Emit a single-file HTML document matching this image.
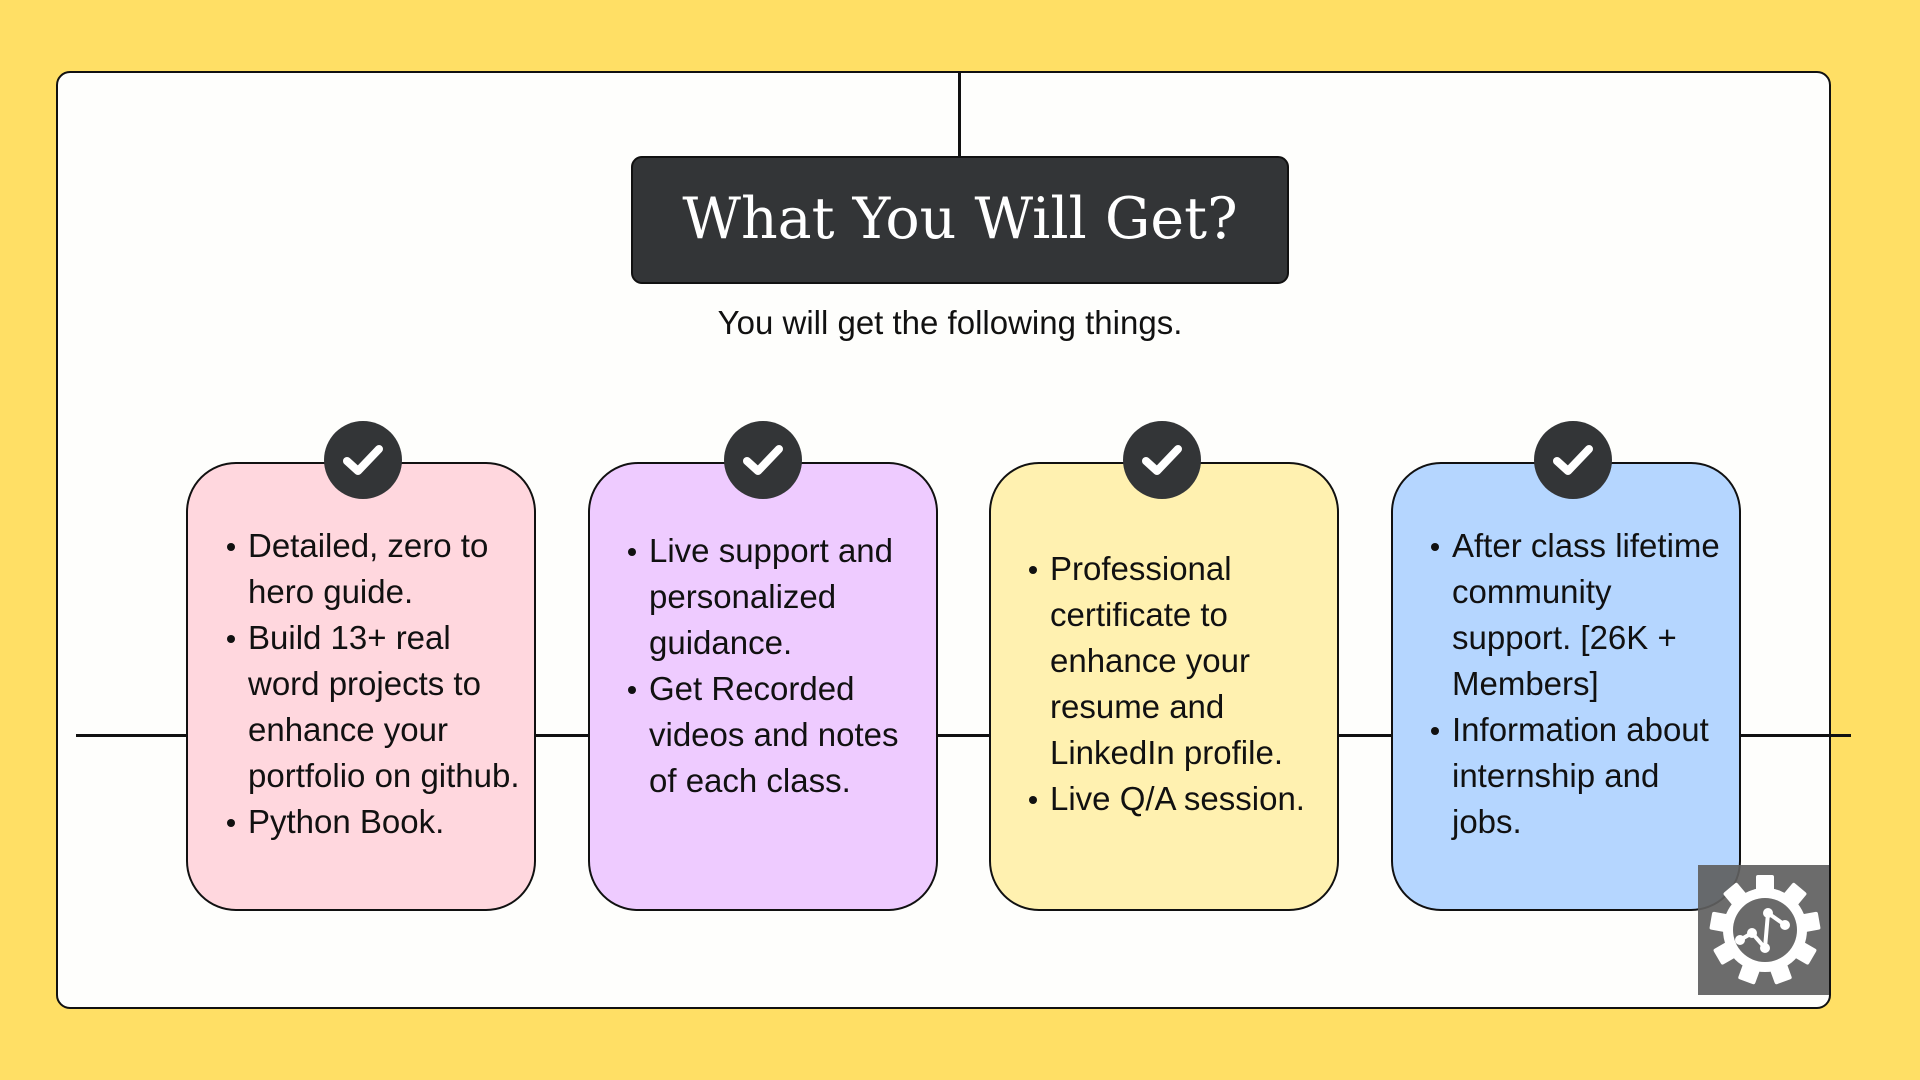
<!DOCTYPE html>
<html><head><meta charset="utf-8"><style>
body{margin:0;width:1920px;height:1080px;background:#ffdf65;position:relative;overflow:hidden;font-family:"Liberation Sans",sans-serif}
.abs{position:absolute}
.frame{left:56px;top:71px;width:1771px;height:934px;background:#fefefc;border:2.5px solid #111;border-radius:14px}
.card{top:462px;width:350px;height:449px;border:2.5px solid #111;border-radius:50px;box-sizing:border-box}
.chk{width:78px;height:78px;border-radius:50%;background:#333537;top:421px}
.chk svg{position:absolute;left:19px;top:22px}
ul{position:absolute;margin:0;padding:0 0 0 60px;list-style:none;font-size:33px;line-height:46px;color:#111;white-space:nowrap}
li{position:relative}
li:before{content:"";position:absolute;left:-21px;top:20px;width:8px;height:8px;border-radius:50%;background:#111}
</style></head><body>
<div class="abs frame"></div>
<div class="abs" style="left:958px;top:72px;width:2.5px;height:86px;background:#111"></div>
<div class="abs" style="left:76px;top:734px;width:1775px;height:2.5px;background:#111"></div>
<div class="abs" style="left:631px;top:156px;width:658px;height:128px;background:#333537;border:2.5px solid #111;border-radius:11px;box-sizing:border-box;color:#fff;font-family:'DejaVu Serif','Liberation Serif',serif;font-size:57px;text-align:center;line-height:122px">What You Will Get?</div>
<div class="abs" style="left:550px;top:304px;width:800px;text-align:center;font-size:33px;color:#111">You will get the following things.</div>

<div class="abs card" style="left:186px;background:#ffd7de"></div>
<div class="abs card" style="left:588px;background:#eecbff"></div>
<div class="abs card" style="left:989px;background:#fff1b0"></div>
<div class="abs card" style="left:1391px;background:#b5d6ff"></div>

<div class="abs chk" style="left:324px"><svg width="40" height="34" viewBox="0 0 40 34"><path d="M4 18 L15 28 L36 6" stroke="#fff" stroke-width="8" fill="none" stroke-linecap="round" stroke-linejoin="round"/></svg></div>
<div class="abs chk" style="left:724px"><svg width="40" height="34" viewBox="0 0 40 34"><path d="M4 18 L15 28 L36 6" stroke="#fff" stroke-width="8" fill="none" stroke-linecap="round" stroke-linejoin="round"/></svg></div>
<div class="abs chk" style="left:1123px"><svg width="40" height="34" viewBox="0 0 40 34"><path d="M4 18 L15 28 L36 6" stroke="#fff" stroke-width="8" fill="none" stroke-linecap="round" stroke-linejoin="round"/></svg></div>
<div class="abs chk" style="left:1534px"><svg width="40" height="34" viewBox="0 0 40 34"><path d="M4 18 L15 28 L36 6" stroke="#fff" stroke-width="8" fill="none" stroke-linecap="round" stroke-linejoin="round"/></svg></div>

<ul style="left:188px;top:523px"><li>Detailed, zero to<br>hero guide.</li><li>Build 13+ real<br>word projects to<br>enhance your<br>portfolio on github.</li><li>Python Book.</li></ul>
<ul style="left:589px;top:528px"><li>Live support and<br>personalized<br>guidance.</li><li>Get Recorded<br>videos and notes<br>of each class.</li></ul>
<ul style="left:990px;top:546px"><li>Professional<br>certificate to<br>enhance your<br>resume and<br>LinkedIn profile.</li><li>Live Q/A session.</li></ul>
<ul style="left:1392px;top:523px"><li>After class lifetime<br>community<br>support. [26K +<br>Members]</li><li>Information about<br>internship and<br>jobs.</li></ul>

<div class="abs" style="left:1698px;top:865px;width:131px;height:130px;background:rgba(95,95,95,0.92)">
<svg width="131" height="130" viewBox="0 0 131 130">
<g transform="translate(67,65)" fill="#fff">
<circle r="42"/>
<g id="t"><rect x="-9" y="-55" width="18" height="20" rx="2"/></g>
<use href="#t" transform="rotate(40)"/><use href="#t" transform="rotate(80)"/><use href="#t" transform="rotate(120)"/><use href="#t" transform="rotate(160)"/><use href="#t" transform="rotate(200)"/><use href="#t" transform="rotate(240)"/><use href="#t" transform="rotate(280)"/><use href="#t" transform="rotate(320)"/>
<circle r="32" fill="#6a6a6a"/>
<g stroke="#fff" stroke-width="4" fill="none"><path d="M-25 10 L-13 3 L0 18 L3 -17 L20 -5"/></g>
<circle cx="-25" cy="10" r="5"/><circle cx="-13" cy="3" r="5"/><circle cx="0" cy="18" r="5"/><circle cx="3" cy="-17" r="5"/><circle cx="20" cy="-5" r="5"/>
</g></svg></div>
</body></html>
